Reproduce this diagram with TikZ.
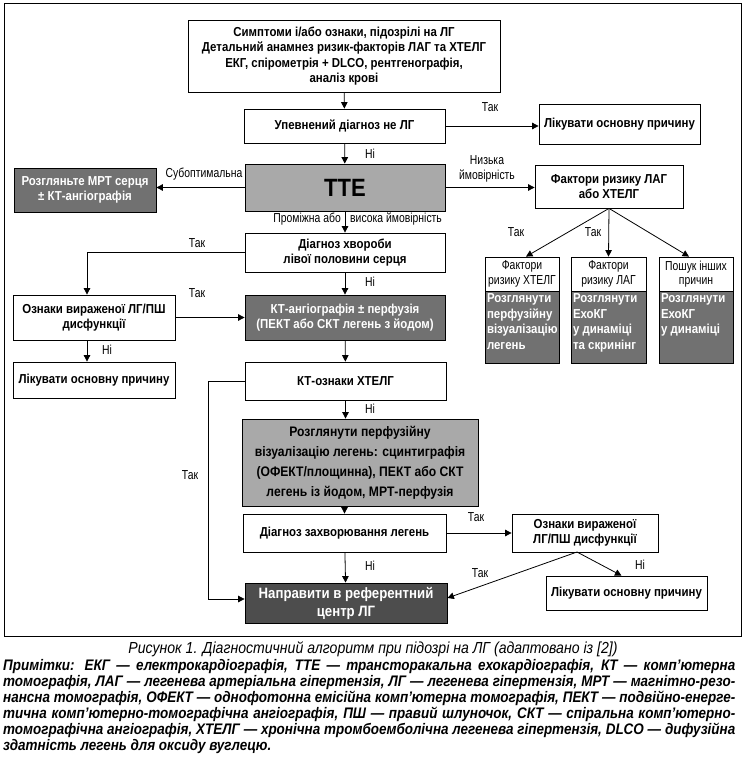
\documentclass[tikz,border=0pt]{standalone}
\usepackage{fontspec}
\setmainfont{Liberation Sans}[FakeStretch=0.88]
\newfontfamily\narrowfamily{Liberation Sans}[FakeStretch=0.8]
\usetikzlibrary{arrows.meta}
\definecolor{lightfill}{HTML}{A9A9A9}
\definecolor{midfill}{HTML}{717171}
\definecolor{deepfill}{HTML}{4D4D4D}
\newcommand\boxfont{\bfseries\fontsize{13}{15.5}\selectfont}
\newcommand\tagfont{\narrowfamily\fontsize{13}{14.5}\selectfont}
\newcommand\notefont{\bfseries\itshape\fontsize{15.3}{16}\selectfont}

\begin{document}
\begin{tikzpicture}[x=1pt,y=-1pt,
  box/.style={draw,line width=0.8pt,align=center,inner sep=1pt,font=\boxfont},
  sz/.style 2 args={minimum width=#1pt,minimum height=#2pt},
  lightbox/.style={box,fill=lightfill},
  midbox/.style={box,fill=midfill,text=white},
  deepbox/.style={box,fill=deepfill,text=white},
  plainbox/.style={box,font=\tagfont},
  lbl/.style={font=\tagfont,inner sep=0pt},
  link/.style={line width=0.8pt},
  arr/.style={link,-{Triangle[length=6.5pt,width=6.5pt]}}]
  \useasboundingbox (0,0) rectangle (746,762);
  \draw[line width=1pt] (4,4) rectangle (741,636);

  % main column
  \node[box,sz={312}{72}] (start) at (344,56) {Симптоми і/або ознаки, підозрілі на ЛГ\\Детальний анамнез ризик-факторів ЛАГ та ХТЕЛГ\\ЕКГ, спірометрія + DLCO, рентгенографія,\\аналіз крові};
  \node[box,sz={201}{34}] (notph) at (344.5,126) {Упевнений діагноз не ЛГ};
  \node[lightbox,sz={200}{47},font=\bfseries\fontsize{25}{27}\selectfont] (tte) at (345,187.5) {ТТЕ};
  \node[box,sz={200}{39}] (lhd) at (345,252.5) {Діагноз хвороби\\лівої половини серця};
  \node[midbox,sz={200}{45}] (ct) at (345,317.5) {КТ-ангіографія ± перфузія\\(ПЕКТ або СКТ легень з йодом)};
  \node[box,sz={201}{38}] (ctsign) at (345.5,381) {КТ-ознаки ХТЕЛГ};
  \node[lightbox,sz={236}{87},font=\bfseries\fontsize{13.8}{20}\selectfont] (perf) at (360,462.5) {Розглянути перфузійну\\візуалізацію легень: сцинтиграфія\\(ОФЕКТ/площинна), ПЕКТ або СКТ\\легень із йодом, МРТ-перфузія};
  \node[box,sz={203}{38}] (dis) at (344.5,533) {Діагноз захворювання легень};
  \node[deepbox,sz={202}{40},font=\bfseries\fontsize{15}{18}\selectfont] (ref) at (346,603) {Направити в референтний\\центр ЛГ};

  % left column
  \node[midbox,sz={142}{44}] (mri) at (85,190) {Розгляньте МРТ серця\\± КТ-ангіографія};
  \node[box,sz={162}{45}] (oznL) at (94,317.5) {Ознаки вираженої ЛГ/ПШ\\дисфункції};
  \node[box,sz={162}{36}] (treatL) at (94,380) {Лікувати основну причину};

  % right column
  \node[box,sz={161}{40}] (treatR) at (619.5,124) {Лікувати основну причину};
  \node[box,sz={148}{43}] (riskf) at (609,186.5) {Фактори ризику ЛАГ\\або ХТЕЛГ};
  \node[plainbox,sz={74}{34}] (fcteph) at (522,274) {Фактори\\ризику ХТЕЛГ};
  \node[plainbox,sz={75}{34}] (fpah) at (608.5,274) {Фактори\\ризику ЛАГ};
  \node[plainbox,sz={74}{34}] (fother) at (696,274) {Пошук інших\\причин};
  \node[midbox,sz={74}{72}] (dcteph) at (522,327) {\parbox[c][66pt][t]{70pt}{\raggedright Розглянути\\перфузійну\\візуалізацію\\легень}};
  \node[midbox,sz={75}{72}] (dpah) at (608.5,327) {\parbox[c][66pt][t]{71pt}{\raggedright Розглянути\\ЕхоКГ\\у динаміці\\та скринінг}};
  \node[midbox,sz={74}{72}] (dother) at (696,327) {\parbox[c][66pt][t]{70pt}{\raggedright Розглянути\\ЕхоКГ\\у динаміці}};
  \node[box,sz={146}{38}] (oznR) at (585,533) {Ознаки вираженої\\ЛГ/ПШ дисфункції};
  \node[box,sz={161}{34}] (treatB) at (626.5,593) {Лікувати основну причину};

  % connectors
  \draw[arr] (start) -- (notph);
  \draw[arr] (notph.east) -- (notph.east -| treatR.west);
  \draw[arr] (notph) -- (tte);
  \draw[arr] (tte.west) -- (tte.west -| mri.east);
  \draw[arr] (tte.east) -- (tte.east -| riskf.west);
  \draw[arr] (tte) -- (lhd);
  \draw[arr] (riskf.south) -- ([xshift=4pt]fcteph.north);
  \draw[arr] (riskf.south) -- (fpah.north);
  \draw[arr] (riskf.south) -- ([xshift=-7pt]fother.north);
  \draw[arr] (lhd.west) -| ([xshift=-7pt]oznL.north);
  \draw[arr] (lhd) -- (ct);
  \draw[arr] (oznL) -- (ct);
  \draw[arr] ([xshift=-7pt]oznL.south) -- ([xshift=-7pt]treatL.north);
  \draw[arr] (ct) -- (ctsign);
  \draw[arr] (ctsign.south) -- (ctsign.south |- perf.north);
  \coordinate (bend) at (208,381);
  \draw[arr] (ctsign.west) -- (bend) |- ([yshift=4pt]ref.west);
  \draw[arr] (dis.north |- perf.south) -- (dis.north);
  \draw[arr] (dis) -- (ref);
  \draw[arr] (dis) -- (oznR);
  \coordinate (fork) at (577,552);
  \draw[arr] (fork) -- ([yshift=5pt]ref.east);
  \draw[arr] (fork) -- ([xshift=-5pt]treatB.north);

  % labels
  \node[lbl] (l1) at (490,107) {Так};
  \node[lbl] (l2) at (370,154) {Ні};
  \node[lbl] (l3) at (204,174) {Субоптимальна};
  \node[lbl,align=center] (l4) at (487,169) {Низька\\ймовірність};
  \node[lbl,anchor=east] (l5) at (341,219) {Проміжна або};
  \node[lbl,anchor=west] (l6) at (350,219) {висока ймовірність};
  \node[lbl] (l7) at (516,232) {Так};
  \node[lbl] (l8) at (593,232) {Так};
  \node[lbl] (l9) at (197,243) {Так};
  \node[lbl] (l10) at (370,282) {Ні};
  \node[lbl] (l11) at (197,293) {Так};
  \node[lbl] (l12) at (107,350) {Ні};
  \node[lbl] (l13) at (370,409) {Ні};
  \node[lbl] (l14) at (190,475) {Так};
  \node[lbl] (l15) at (476,517) {Так};
  \node[lbl] (l16) at (370,566) {Ні};
  \node[lbl] (l17) at (480,573) {Так};
  \node[lbl] (l18) at (640,565) {Ні};

  % caption and notes
  \node[font=\itshape\fontsize{16}{18}\selectfont] (cap) at (373,649) {Рисунок 1. Діагностичний алгоритм при підозрі на ЛГ (адаптовано із [2])};
  \node[anchor=north west,align=left,inner sep=0pt,font=\notefont] (notes) at (3,659) {%
    \makebox[732pt][s]{Примітки: ЕКГ — електрокардіографія, ТТЕ — трансторакальна ехокардіографія, КТ — комп’ютерна}\\
    \makebox[732pt][s]{томографія, ЛАГ — легенева артеріальна гіпертензія, ЛГ — легенева гіпертензія, МРТ — магнітно-резо-}\\
    \makebox[732pt][s]{нансна томографія, ОФЕКТ — однофотонна емісійна комп’ютерна томографія, ПЕКТ — подвійно-енерге-}\\
    \makebox[732pt][s]{тична комп’ютерно-томографічна ангіографія, ПШ — правий шлуночок, СКТ — спіральна комп’ютерно-}\\
    \makebox[732pt][s]{томографічна ангіографія, ХТЕЛГ — хронічна тромбоемболічна легенева гіпертензія, DLCO — дифузійна}\\
    здатність легень для оксиду вуглецю.};
\end{tikzpicture}
\end{document}
